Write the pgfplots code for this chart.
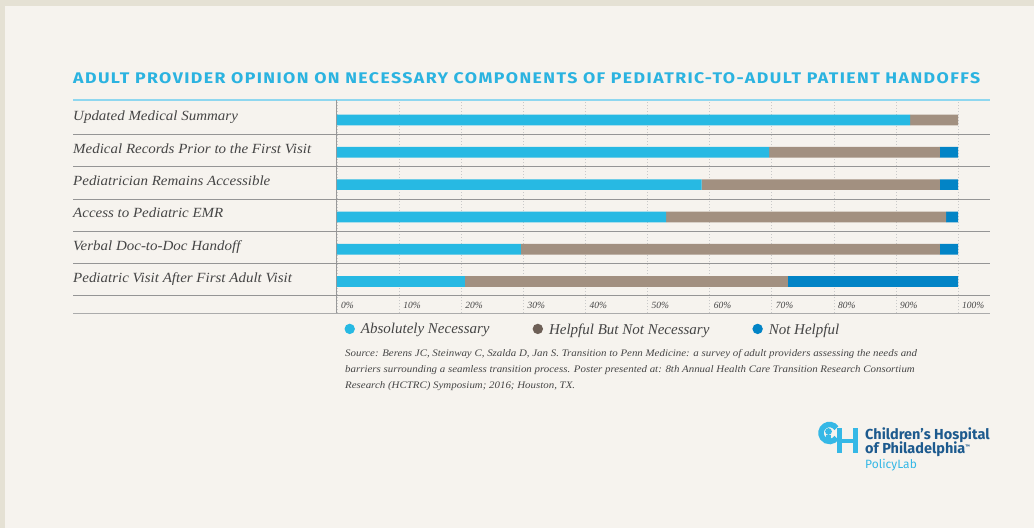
\documentclass[border=0pt]{standalone}
\usepackage{graphicx}
\usepackage{pgfplots}
\pgfplotsset{compat=1.18}
\usepackage{fontspec}
\setmainfont{Liberation Serif}
\newfontfamily\lblfont[FakeStretch=1.07]{Liberation Serif}
\newfontfamily\srcfont[FakeStretch=1.09]{Liberation Serif}
\newfontfamily\titlefont[LetterSpace=8]{Fira Sans}
\newfontfamily\logofont{Fira Sans}
\definecolor{bgout}{HTML}{E5E1D4}
\definecolor{bgin}{HTML}{F6F3EE}
\definecolor{cA}{HTML}{27B9E3}
\definecolor{cB}{HTML}{A29080}
\definecolor{cC}{HTML}{0284C6}
\definecolor{cBleg}{HTML}{6E6057}
\definecolor{ttl}{HTML}{2BB3E0}
\definecolor{ttlrule}{HTML}{8FD7EF}
\definecolor{sepc}{HTML}{959595}
\definecolor{gridc}{HTML}{C9C9C9}
\definecolor{txt}{HTML}{454545}
\definecolor{logoc}{HTML}{1D5A8E}
\definecolor{lblue}{HTML}{35B8E6}
\begin{document}
\begin{tikzpicture}
\fill[bgout] (0pt,0pt) rectangle (1034pt,-528pt);
\fill[bgin] (5pt,-6pt) rectangle (1034pt,-528pt);
\useasboundingbox (0pt,0pt) rectangle (1034pt,-528pt);
% title
\node[anchor=base west, inner sep=0pt, text=ttl] at (73pt,-83pt)
  {\resizebox{907pt}{\height}{\titlefont\bfseries\fontsize{15.4}{18}\selectfont ADULT PROVIDER OPINION ON NECESSARY COMPONENTS OF PEDIATRIC-TO-ADULT PATIENT HANDOFFS}};
\draw[ttlrule, line width=1.5pt] (73pt,-100pt) -- (990pt,-100pt);
\begin{axis}[
  at={(337pt,-313pt)}, anchor=south west,
  width=621pt, height=213pt, scale only axis,
  xmin=0, xmax=100, ymin=0.025, ymax=6.619,
  xbar stacked, bar width=10.7pt,
  axis line style={draw=none},
  major tick length=0pt,
  xtick={0,10,20,30,40,50,60,70,80,90,100},
  xticklabels={0\%,10\%,20\%,30\%,40\%,50\%,60\%,70\%,80\%,90\%,100\%},
  xticklabel style={anchor=base west, inner sep=0pt, xshift=4pt, yshift=5pt, font=\fontsize{9.5}{11}\selectfont\itshape, text=txt},
  xmajorgrids,
  grid style={dash pattern=on 1.5pt off 1.5pt, color=gridc, line width=0.6pt},
  ytick={1,2,3,4,5,6},
  yticklabels={Pediatric Visit After First Adult Visit, Verbal Doc-to-Doc Handoff, Access to Pediatric EMR, Pediatrician Remains Accessible, Medical Records Prior to the First Visit, Updated Medical Summary},
  yticklabel style={anchor=base west, inner sep=0pt, xshift=-264pt, yshift=-1pt, font=\lblfont\fontsize{14}{16}\selectfont\itshape, text=txt},
  clip=false,
  legend columns=3,
  legend style={draw=none, fill=none, inner sep=0pt, at={(axis description cs:0.0118,-0.0775)}, anchor=west,
    font=\fontsize{15}{17}\selectfont\itshape, text=txt,
    nodes={inner sep=0pt},
    /tikz/every odd column/.append style={column sep=6pt},
    /tikz/every even column/.append style={column sep=43pt}},
  legend cell align=left,
]
\addplot[fill=cA, draw=none, legend image code/.code={\fill[cA] (5.2pt,0.6pt) circle (5.2pt);}]
  coordinates {(20.6,1) (29.6,2) (53.0,3) (58.7,4) (69.6,5) (92.3,6)};
\addplot[fill=cB, draw=none, legend image code/.code={\fill[cBleg] (5.2pt,0.6pt) circle (5.2pt);}]
  coordinates {(52.0,1) (67.5,2) (45.1,3) (38.4,4) (27.5,5) (7.7,6)};
\addplot[fill=cC, draw=none, legend image code/.code={\fill[cC] (5.2pt,0.6pt) circle (5.2pt);}]
  coordinates {(27.4,1) (2.9,2) (1.9,3) (2.9,4) (2.9,5) (0,6)};
\legend{Absolutely Necessary, Helpful But Not Necessary, Not Helpful}
\draw[color=black!40, line width=1pt] (axis description cs:0,0) -- (axis description cs:0,1);
\end{axis}
% row separators
\foreach \yy in {134.3,166.3,199,231.3,263.3,295.7}
  \draw[sepc, line width=1pt] (73pt,-\yy pt) -- (990pt,-\yy pt);
\draw[black!33, line width=1.3pt] (73pt,-313.3pt) -- (990pt,-313.3pt);
% source
\begin{scope}[every node/.style={anchor=base west, inner sep=0pt, text=txt, font=\srcfont\fontsize{10}{12}\selectfont\itshape}]
\node at (345pt,-356.7pt) {Source: Berens JC, Steinway C, Szalda D, Jan S. Transition to Penn Medicine: a survey of adult providers assessing the needs and};
\node at (345pt,-372.7pt) {barriers surrounding a seamless transition process. Poster presented at: 8th Annual Health Care Transition Research Consortium};
\node at (345pt,-388.3pt) {Research (HCTRC) Symposium; 2016; Houston, TX.};
\end{scope}
% logo
\draw[lblue, line width=5.5pt] (829.5pt,-433pt) ++(35:8.5pt) arc[start angle=35, end angle=325, radius=8.5pt];
\fill[lblue] (828.5pt,-431.5pt) circle (3.4pt);
\fill[lblue] (826pt,-441pt) rectangle (831pt,-435pt);
\fill[lblue] (837pt,-428pt) rectangle (841.5pt,-453pt);
\fill[lblue] (853pt,-428pt) rectangle (857.5pt,-453pt);
\fill[lblue] (837pt,-438.5pt) rectangle (857.5pt,-442.5pt);
\node[anchor=base west, inner sep=0pt, text=logoc] at (865pt,-439.5pt) {\logofont\bfseries\fontsize{14.5}{16}\selectfont Children’s Hospital};
\node[anchor=base west, inner sep=0pt, text=logoc] at (865pt,-453pt) {\logofont\bfseries\fontsize{14.5}{16}\selectfont of Philadelphia\raisebox{4.5pt}{\fontsize{5}{5}\selectfont ™}};
\node[anchor=base west, inner sep=0pt, text=lblue] at (865pt,-468.5pt) {\logofont\fontsize{12}{14}\selectfont PolicyLab};
\end{tikzpicture}
\end{document}
